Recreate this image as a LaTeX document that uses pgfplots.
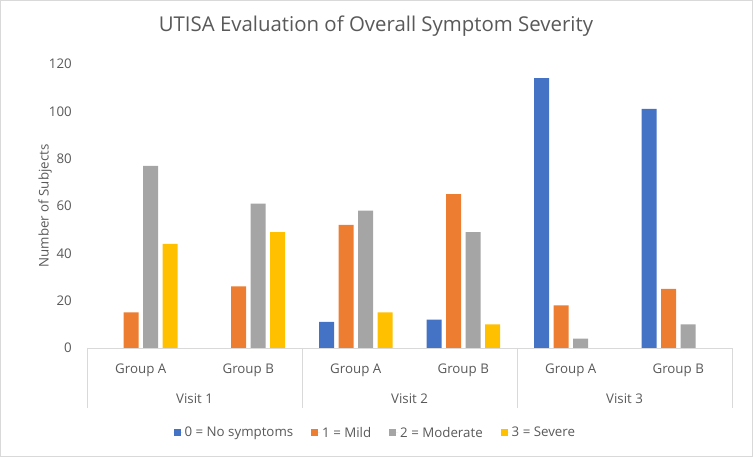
\documentclass[border=0pt]{standalone}
\usepackage{pgfplots}
\usepackage{pgfplotstable}
\pgfplotsset{compat=1.18}
\usepackage{fontspec}
\setmainfont{Open Sans}

\definecolor{xlblue}{HTML}{4472C4}
\definecolor{xlorange}{HTML}{ED7D31}
\definecolor{xlgray}{HTML}{A5A5A5}
\definecolor{xlyellow}{HTML}{FFC000}
\definecolor{txt}{HTML}{595959}
\definecolor{axisgray}{HTML}{D9D9D9}

% group: 0..5 = Visit1 A, Visit1 B, Visit2 A, Visit2 B, Visit3 A, Visit3 B
\pgfplotstableread{
x none mild moderate severe
0 0   15 77 44
1 0   26 61 49
2 11  52 58 15
3 12  65 49 10
4 114 18 4  0
5 101 25 10 0
}\severity

\newcommand{\lbl}{\fontsize{13.3pt}{16pt}\selectfont}

\begin{document}
\begin{tikzpicture}
\useasboundingbox (0,0) rectangle (753pt,457pt);
\draw[axisgray, line width=0.8pt] (0.5pt,0.5pt) rectangle (752.5pt,456.5pt);
\begin{axis}[
    at={(87pt,109pt)}, anchor=south west,
    scale only axis,
    width=645pt, height=284pt,
    ybar=4.5pt, bar width=15pt,
    xmin=-0.5, xmax=5.5, ymin=0, ymax=120,
    restrict y to domain=0.5:1000, % zero counts draw no bar
    clip=false,
    axis x line*=bottom, axis y line*=left,
    x axis line style={draw=axisgray, line width=0.8pt},
    y axis line style={draw=none},
    xtick={0,...,5},
    xticklabels={Group A, Group B, Group A, Group B, Group A, Group B},
    ytick={0,20,...,120},
    tick style={draw=none},
    major tick length=0pt,
    /pgf/number format/assume math mode=true,
    xticklabel style={font=\lbl, text=txt, anchor=base, yshift=-25.3pt},
    yticklabel style={font=\lbl, text=txt, anchor=east, inner sep=0pt, xshift=-15pt},
    title={UTISA Evaluation of Overall Symptom Severity},
    title style={font=\fontsize{20.4pt}{24pt}\selectfont, text=txt,
        at={(axis description cs:0.448,1.094)}, anchor=base, yshift=0pt},
    ylabel={Number of Subjects},
    ylabel style={font=\lbl, text=txt,
        at={(axis description cs:-0.0651,0.5)}, anchor=center},
    legend columns=4,
    legend style={draw=none, font=\lbl, text=txt,
        at={(axis description cs:0.447,-0.299)}, anchor=center,
        /tikz/every even column/.append style={column sep=16pt}},
    legend image code/.code={\fill[#1] (0pt,-3.5pt) rectangle (7pt,3.5pt);
        \path (0pt,0pt) -- (9pt,0pt);},
]
\addplot[fill=xlblue, draw=none] table[x=x, y=none] {\severity};
\addplot[fill=xlorange, draw=none] table[x=x, y=mild] {\severity};
\addplot[fill=xlgray, draw=none] table[x=x, y=moderate] {\severity};
\addplot[fill=xlyellow, draw=none] table[x=x, y=severe] {\severity};
\legend{0 = No symptoms, 1 = Mild, 2 = Moderate, 3 = Severe}

% category dividers and outer level labels
\draw[axisgray, line width=0.8pt] (axis cs:-0.5,0) -- ++(0pt,-60pt);
\draw[axisgray, line width=0.8pt] (axis cs:1.5,0) -- ++(0pt,-60pt);
\draw[axisgray, line width=0.8pt] (axis cs:3.5,0) -- ++(0pt,-60pt);
\draw[axisgray, line width=0.8pt] (axis cs:5.5,0) -- ++(0pt,-60pt);
\node[font=\lbl, text=txt, anchor=base] at ([yshift=-55.3pt]axis cs:0.5,0) {Visit 1};
\node[font=\lbl, text=txt, anchor=base] at ([yshift=-55.3pt]axis cs:2.5,0) {Visit 2};
\node[font=\lbl, text=txt, anchor=base] at ([yshift=-55.3pt]axis cs:4.5,0) {Visit 3};
\end{axis}
\end{tikzpicture}
\end{document}
